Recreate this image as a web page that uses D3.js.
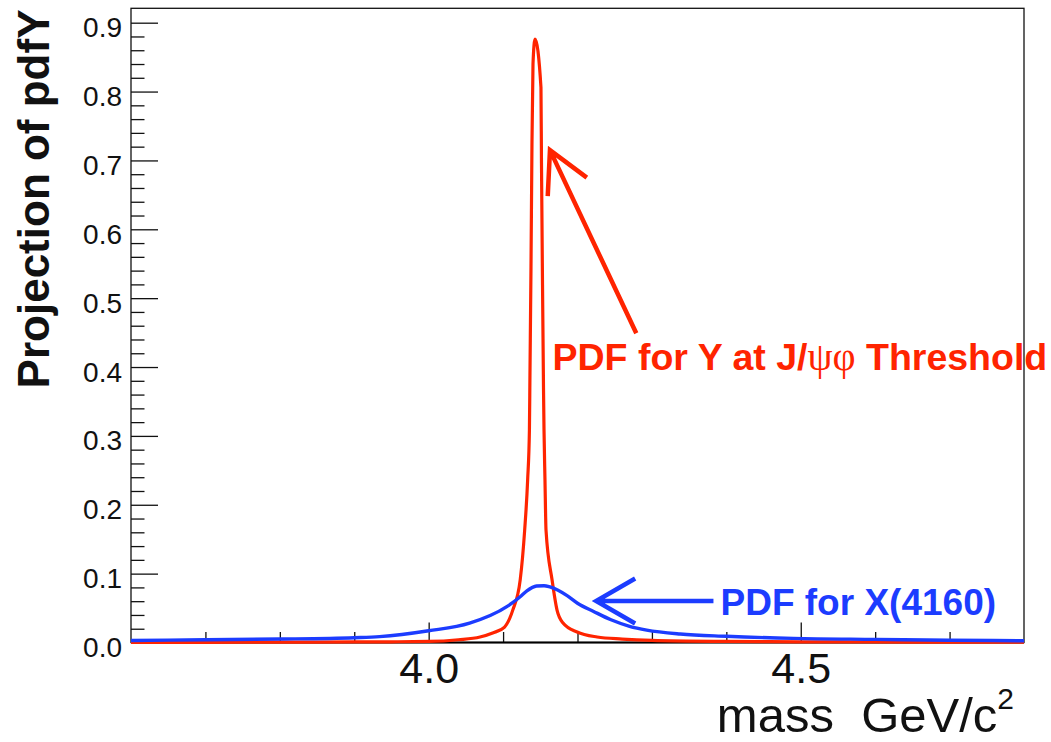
<!DOCTYPE html>
<html><head><meta charset="utf-8">
<script src="https://cdn.jsdelivr.net/npm/d3@7"></script>
<style>html,body{margin:0;padding:0;background:#fff;} svg{display:block;}</style>
</head><body>
<svg id="c" width="1051" height="742"></svg>
<script>
// ---- data ----
const redX = [3.60, 3.70, 3.80, 3.90, 3.95, 4.00, 4.04, 4.069, 4.086, 4.102, 4.113, 4.123, 4.129, 4.133,
  4.1354, 4.1361, 4.1375, 4.1388, 4.1402, 4.1429, 4.1509, 4.1516, 4.1530, 4.1543, 4.1550, 4.1563, 4.1577,
  4.1658, 4.1725, 4.1806, 4.1995, 4.2264, 4.26, 4.30, 4.40, 4.50, 4.60, 4.70, 4.80];
const redY = [0.0002, 0.0003, 0.0005, 0.0008, 0.001, 0.0015, 0.004, 0.008, 0.0138, 0.0225, 0.047, 0.091, 0.163, 0.236,
  0.309, 0.388, 0.545, 0.722, 0.840, 0.876, 0.806, 0.696, 0.519, 0.370, 0.309, 0.236, 0.163,
  0.091, 0.047, 0.0283, 0.0152, 0.008, 0.005, 0.003, 0.0015, 0.001, 0.0007, 0.0005, 0.0004];
const blueX = [3.60, 3.70, 3.80, 3.90, 3.934, 4.00, 4.055, 4.105, 4.123, 4.132, 4.145, 4.155, 4.163, 4.186, 4.200,
  4.221, 4.245, 4.270, 4.293, 4.338, 4.40, 4.49, 4.60, 4.70, 4.80];
const blueY = [0.003, 0.004, 0.005, 0.007, 0.0085, 0.017, 0.028, 0.052, 0.0665, 0.075, 0.082, 0.0825, 0.0806, 0.068, 0.057,
  0.0455, 0.033, 0.0235, 0.018, 0.0123, 0.009, 0.006, 0.0045, 0.0033, 0.0025];

const xMajorTicks = [4.0, 4.5];
const xTickLabels = ["4.0", "4.5"];
const xMinorTicks = [3.7, 3.8, 3.9, 4.1, 4.2, 4.3, 4.4, 4.6, 4.7];
const yMajorTicks = [0.0, 0.1, 0.2, 0.3, 0.4, 0.5, 0.6, 0.7, 0.8, 0.9];
const yTickLabels = ["0.0", "0.1", "0.2", "0.3", "0.4", "0.5", "0.6", "0.7", "0.8", "0.9"];
const yMinorTicks = d3.range(0, 46).map(i => i * 0.02).filter(v => Math.abs(v * 10 - Math.round(v * 10)) > 1e-6);

const xTitle = "mass  GeV/c";
const xTitleSup = "2";
const yTitle = "Projection of pdfY";
const redLabelParts = ["PDF for Y at J/", "\u03C8\u03C6", " Threshold"];
const blueLabel = "PDF for X(4160)";
// annotation anchors in data units: [tipX, tipY, tailX, tailY]
const redArrow = [4.163, 0.715, 4.279, 0.449];
const blueArrow = [4.2251, 0.0603, 4.3827, 0.0603];
const redLabelPos = [4.1664, 0.3957];
const blueLabelPos = [4.3922, 0.0399];

// ---- drawing ----
const RED = "#ff2400", BLUE = "#1c3cff";
const SANS = "'Liberation Sans', Arial, Helvetica, sans-serif";
const L = 131, R = 1024, T = 8.3, B = 642.5;
const svg = d3.select("#c");
svg.append("rect").attr("width", 1051).attr("height", 742).attr("fill", "#fff");

const x = d3.scaleLinear().domain([3.6, 4.8]).range([L, R]);
const y = d3.scaleLinear().domain([0, 0.9209]).range([B, T]);

svg.append("defs").append("clipPath").attr("id", "clip")
  .append("rect").attr("x", L).attr("y", T - 2).attr("width", R - L).attr("height", B - T + 6);

// frame
svg.append("rect").attr("x", L).attr("y", T).attr("width", R - L).attr("height", B - T)
  .attr("fill", "none").attr("stroke", "#111").attr("stroke-width", 1.3);

// y axis majors
const yAx = svg.append("g").attr("transform", `translate(${L},0)`)
  .call(d3.axisLeft(y).tickValues(yMajorTicks).tickSize(-27).tickPadding(9)
    .tickFormat((d, i) => yTickLabels[i]));
yAx.select(".domain").remove();
yAx.selectAll("line").attr("stroke", "#111").attr("stroke-width", 1.3);
yAx.selectAll("text").attr("font-family", SANS).attr("font-size", 28).attr("fill", "#111").attr("dy", "0.5em");
const yMin = svg.append("g").attr("transform", `translate(${L},0)`)
  .call(d3.axisLeft(y).tickValues(yMinorTicks).tickSize(-13.5).tickFormat(""));
yMin.select(".domain").remove();
yMin.selectAll("line").attr("stroke", "#111").attr("stroke-width", 1.3);

// x axis
const xAx = svg.append("g").attr("transform", `translate(0,${B})`)
  .call(d3.axisBottom(x).tickValues(xMajorTicks).tickSize(-20).tickPadding(10)
    .tickFormat((d, i) => xTickLabels[i]));
xAx.select(".domain").remove();
xAx.selectAll("line").attr("stroke", "#111").attr("stroke-width", 1.3);
xAx.selectAll("text").attr("font-family", SANS).attr("font-size", 43).attr("fill", "#111");
const xMin = svg.append("g").attr("transform", `translate(0,${B})`)
  .call(d3.axisBottom(x).tickValues(xMinorTicks).tickSize(-10.5).tickFormat(""));
xMin.select(".domain").remove();
xMin.selectAll("line").attr("stroke", "#111").attr("stroke-width", 1.3);
svg.append("line").attr("x1", L).attr("x2", R).attr("y1", B).attr("y2", B)
  .attr("stroke", "#000").attr("stroke-width", 2);

// curves
const line = d3.line().x(d => x(d[0])).y(d => y(d[1])).curve(d3.curveMonotoneX);
const plot = svg.append("g").attr("clip-path", "url(#clip)");
plot.append("path").datum(redX.map((v, i) => [v, redY[i]])).attr("d", line)
  .attr("fill", "none").attr("stroke", RED).attr("stroke-width", 3.2).attr("stroke-linejoin", "miter");
plot.append("path").datum(blueX.map((v, i) => [v, blueY[i]])).attr("d", line)
  .attr("fill", "none").attr("stroke", BLUE).attr("stroke-width", 3.4).attr("stroke-linejoin", "round");

// arrows
function arrow(a, color, len, half) {
  const tx = x(a[0]), ty = y(a[1]), ex = x(a[2]), ey = y(a[3]);
  const ang = Math.atan2(ey - ty, ex - tx);
  const p1 = [tx + len * Math.cos(ang + half), ty + len * Math.sin(ang + half)];
  const p2 = [tx + len * Math.cos(ang - half), ty + len * Math.sin(ang - half)];
  const p = d3.path();
  p.moveTo(p1[0], p1[1]); p.lineTo(tx, ty); p.lineTo(p2[0], p2[1]);
  p.moveTo(tx, ty); p.lineTo(ex, ey);
  svg.append("path").attr("d", p.toString()).attr("fill", "none").attr("stroke", color)
    .attr("stroke-width", 4.5).attr("stroke-linejoin", "miter").attr("stroke-linecap", "butt");
}
arrow(redArrow, RED, 46, 28 * Math.PI / 180);
arrow(blueArrow, BLUE, 45, 30 * Math.PI / 180);

// labels
const rt = svg.append("text").attr("x", x(redLabelPos[0])).attr("y", y(redLabelPos[1]))
  .attr("font-family", SANS).attr("font-size", 37.5).attr("font-weight", "bold").attr("fill", RED)
  .style("white-space", "pre");
rt.append("tspan").text(redLabelParts[0]);
rt.append("tspan").attr("font-family", "'Liberation Serif', 'DejaVu Serif', serif").attr("font-weight", "normal")
  .attr("font-size", 40).text(redLabelParts[1]);
rt.append("tspan").text(redLabelParts[2]);

svg.append("text").attr("x", x(blueLabelPos[0])).attr("y", y(blueLabelPos[1]))
  .attr("font-family", SANS).attr("font-size", 37).attr("font-weight", "bold").attr("fill", BLUE)
  .text(blueLabel);

// axis titles
const xt = svg.append("text").attr("x", 1014).attr("y", 731.5).attr("text-anchor", "end")
  .attr("font-family", SANS).attr("font-size", 49).attr("fill", "#111").style("white-space", "pre");
xt.append("tspan").text(xTitle);
xt.append("tspan").attr("font-size", 30).attr("dy", -23).text(xTitleSup);

svg.append("text").attr("transform", "translate(49,9.5) rotate(-90)").attr("text-anchor", "end")
  .attr("font-family", SANS).attr("font-size", 44).attr("font-weight", "bold").attr("fill", "#111")
  .text(yTitle);
</script>
</body></html>
